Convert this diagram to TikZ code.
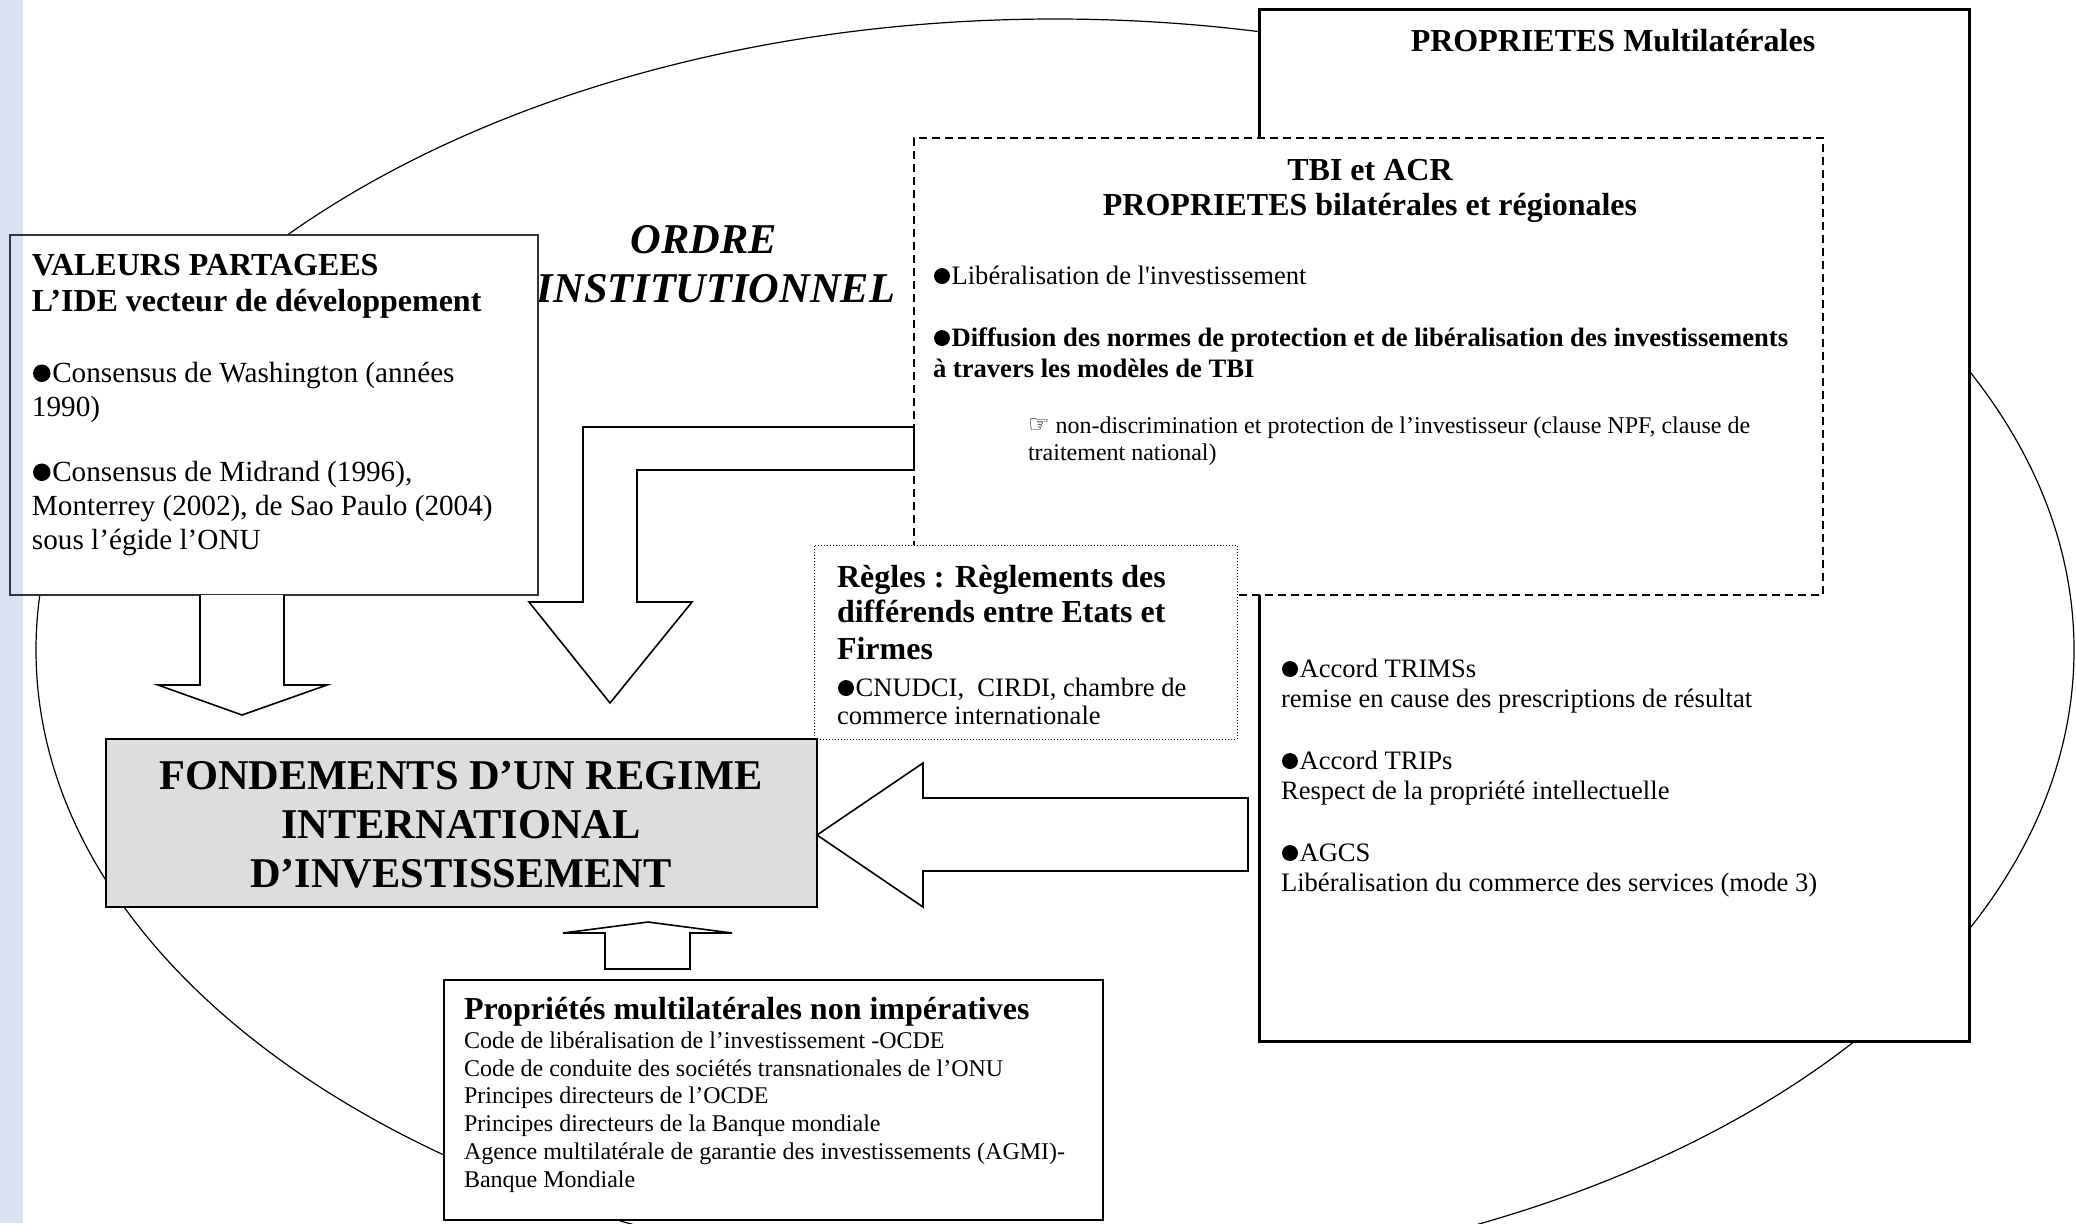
\documentclass[tikz,border=0pt]{standalone}
\usepackage{fontspec}
\setmainfont{Liberation Serif}
\newfontfamily\symf{DejaVu Sans}
\usetikzlibrary{fit,shapes.geometric}
\definecolor{stripblue}{RGB}{217,226,242}
\definecolor{fondgray}{RGB}{221,221,221}
\newcommand\ftOrd{\fontsize{21.2pt}{24.5pt}\selectfont\bfseries\itshape}
\newcommand\ftFond{\fontsize{21.2pt}{24.5pt}\selectfont\bfseries}
\newcommand\ftHead{\fontsize{16pt}{18.4pt}\selectfont\bfseries}
\newcommand\ftVal{\fontsize{14.6pt}{17pt}\selectfont}
\newcommand\ftBody{\fontsize{13.3pt}{15.3pt}\selectfont}
\newcommand\ftBodyB{\fontsize{13.3pt}{15.3pt}\selectfont\bfseries}
\newcommand\ftSmall{\fontsize{12pt}{13.8pt}\selectfont}
\newcommand\blt{\tikz[baseline=0pt]\fill (0.3em,0.3em) circle[radius=0.3em];\hspace{0.06em}}
\newcommand\hand{{\symf\fontsize{12pt}{12pt}\selectfont\raisebox{0.5pt}{☞}}}
\begin{document}
\begin{tikzpicture}[x=0.5pt,y=-0.5pt,
  tl/.style={anchor=base west, inner sep=0pt, outer sep=0pt},
  tc/.style={anchor=base, inner sep=0pt, outer sep=0pt},
  frame/.style={inner sep=0pt, outer sep=0pt, draw, fill=white},
  barrow/.style={draw, line width=0.8pt, fill=white, line join=miter},
]
\useasboundingbox (0,0) rectangle (2076,1223);

% outer ellipse
\node[ellipse, draw, line width=0.6pt, inner sep=0pt,
      minimum width=1019pt, minimum height=631pt] (ordre) at (1055,650) {};

% ORDRE INSTITUTIONNEL
\node[tc, font=\ftOrd] (ordre1) at (704,253) {ORDRE};
\node[tc, font=\ftOrd] (ordre2) at (716,302) {INSTITUTIONNEL};

% VALEURS box
\node[inner sep=0pt, outer sep=0pt, fill=white, fit={(10,235)(538,595)}] (val) {};
\fill[stripblue] (0,0) rectangle (23,1223);
\draw[line width=1pt, draw=black!80] (val.north west) rectangle (val.south east);
\node[tl, font=\ftHead] (v1) at (32,275) {VALEURS PARTAGEES};
\node[tl, font=\ftHead] (v2) at (32,311) {L’IDE vecteur de développement};
\node[tl, font=\ftVal] (v3) at (33,382) {\blt Consensus de Washington (années};
\node[tl, font=\ftVal] (v4) at (32,416) {1990)};
\node[tl, font=\ftVal] (v5) at (33,481) {\blt Consensus de Midrand (1996),};
\node[tl, font=\ftVal] (v6) at (32,515) {Monterrey (2002), de Sao Paulo (2004)};
\node[tl, font=\ftVal] (v7) at (32,549) {sous l’égide l’ONU};

% arrow from VALEURS down
\draw[barrow] (200,595) -- (200,685) -- (158,685) -- (242,715) -- (327,685) -- (284,685) -- (284,595);

% PROPRIETES Multilaterales box
\node[frame, line width=1.5pt, fit={(1259,9)(1969,1041)}] (multi) {};
\node[tc, font=\ftHead] (m0) at (1613,51) {PROPRIETES Multilatérales};
\node[tl, font=\ftBody] (m1) at (1282,677) {\blt Accord TRIMSs};
\node[tl, font=\ftBody] (m2) at (1281,707) {remise en cause des prescriptions de résultat};
\node[tl, font=\ftBody] (m3) at (1282,769) {\blt Accord TRIPs};
\node[tl, font=\ftBody] (m4) at (1281,799) {Respect de la propriété intellectuelle};
\node[tl, font=\ftBody] (m5) at (1282,861) {\blt AGCS};
\node[tl, font=\ftBody] (m6) at (1281,891) {Libéralisation du commerce des services (mode 3)};

% TBI box (dashed)
\node[frame, line width=0.75pt, dash pattern=on 4pt off 2.5pt, fit={(914,138)(1823,595)}] (tbi) {};
\node[tc, font=\ftHead] (t1) at (1370,180) {TBI et ACR};
\node[tc, font=\ftHead] (t2) at (1370,215) {PROPRIETES bilatérales et régionales};
\node[tl, font=\ftBody] (t3) at (934,284) {\blt Libéralisation de l\textquotesingle investissement};
\node[tl, font=\ftBodyB] (t4) at (934,346) {\blt Diffusion des normes de protection et de libéralisation des investissements};
\node[tl, font=\ftBodyB] (t5) at (933,377) {à travers les modèles de TBI};
\node[tl, font=\ftSmall] (t6) at (1028,433) {\hand\ non-discrimination et protection de l’investisseur (clause NPF, clause de};
\node[tl, font=\ftSmall] (t7) at (1028,460) {traitement national)};

% bent arrow from TBI box
\draw[barrow] (tbi.west |- 0,427) -- (583,427) -- (583,602) -- (529,602) -- (610,703)
  -- (692,602) -- (637,602) -- (637,470) -- (tbi.west |- 0,470) -- cycle;

% Regles box (dotted)
\node[frame, line width=0.5pt, densely dotted, fit={(814,545)(1237,739)}] (regles) {};
\node[tl, font=\ftHead] (r1) at (837,587) {Règles : Règlements des};
\node[tl, font=\ftHead] (r2) at (837,622) {différends entre Etats et};
\node[tl, font=\ftHead] (r3) at (837,659) {Firmes};
\node[tl, font=\ftBody] (r4) at (838,696) {\blt CNUDCI,\ \ CIRDI, chambre de};
\node[tl, font=\ftBody] (r5) at (837,724) {commerce internationale};

% FONDEMENTS box
\node[frame, fill=fondgray, line width=1pt, fit={(106,739)(817,907)}] (fond) {};
\node[tc, font=\ftFond] (f1) at (461,789) {FONDEMENTS D’UN REGIME};
\node[tc, font=\ftFond] (f2) at (461,838) {INTERNATIONAL};
\node[tc, font=\ftFond] (f3) at (461,887) {D’INVESTISSEMENT};

% left arrow from Multilaterales to FONDEMENTS
\draw[barrow] (1248,798) -- (923,798) -- (923,763) -- (fond.east |- 0,835) -- (923,907)
  -- (923,871) -- (1248,871) -- cycle;

% up arrow from bottom box
\draw[barrow] (605,969) -- (605,933) -- (563,933) -- (648,922) -- (732,933)
  -- (690,933) -- (690,969) -- cycle;

% Proprietes non imperatives box
\node[frame, line width=1pt, fit={(444,980)(1103,1220)}] (prop) {};
\node[tl, font=\ftHead] (p0) at (464,1019) {Propriétés multilatérales non impératives};
\node[tl, font=\ftSmall] (p1) at (464,1048) {Code de libéralisation de l’investissement -OCDE};
\node[tl, font=\ftSmall] (p2) at (464,1076) {Code de conduite des sociétés transnationales de l’ONU};
\node[tl, font=\ftSmall] (p3) at (464,1103) {Principes directeurs de l’OCDE};
\node[tl, font=\ftSmall] (p4) at (464,1131) {Principes directeurs de la Banque mondiale};
\node[tl, font=\ftSmall] (p5) at (464,1159) {Agence multilatérale de garantie des investissements (AGMI)-};
\node[tl, font=\ftSmall] (p6) at (464,1187) {Banque Mondiale};
\end{tikzpicture}
\end{document}
